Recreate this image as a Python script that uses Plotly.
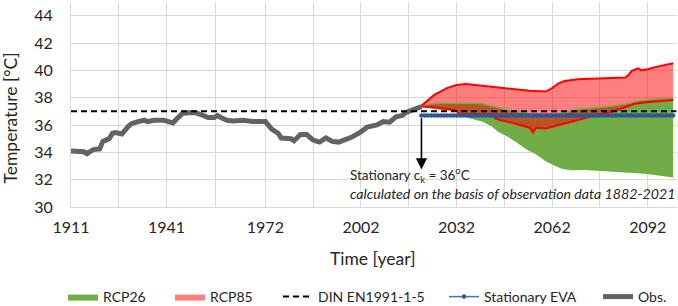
import plotly.graph_objects as go

# ---------------- data ----------------
obs_years = [1911, 1913, 1914, 1915, 1916, 1918, 1920, 1921, 1923, 1924, 1925, 1927,
             1929, 1930, 1932, 1934, 1935, 1937, 1940, 1943, 1944, 1946, 1948, 1950,
             1952, 1954, 1956, 1957, 1958, 1960, 1962, 1965, 1968, 1972, 1974, 1976,
             1977, 1980, 1981, 1983, 1985, 1987, 1989, 1991, 1993, 1995, 1999, 2001,
             2002, 2004, 2007, 2009, 2011, 2013, 2015, 2016, 2018, 2020, 2021]
obs_values = [34.1, 34.1, 34.05, 34.05, 33.9, 34.2, 34.25, 34.8, 35.0, 35.4, 35.45, 35.35,
              35.9, 36.1, 36.25, 36.35, 36.25, 36.35, 36.35, 36.15, 36.4, 36.85, 36.9, 36.9,
              36.75, 36.55, 36.55, 36.7, 36.55, 36.35, 36.3, 36.35, 36.25, 36.25, 35.7, 35.4,
              35.05, 35.0, 34.85, 35.3, 35.3, 34.9, 34.75, 35.05, 34.8, 34.75, 35.1, 35.35,
              35.5, 35.85, 36.0, 36.25, 36.2, 36.6, 36.7, 36.9, 37.1, 37.3, 37.35]

rcp85_up_years = [2021, 2025, 2029, 2032, 2035, 2040, 2045, 2050, 2055, 2060, 2062, 2064,
                  2066, 2070, 2075, 2081, 2085, 2086, 2087, 2089, 2090, 2092, 2095, 2100]
rcp85_up_values = [37.4, 38.2, 38.7, 38.93, 39.0, 38.88, 38.76, 38.6, 38.5, 38.45, 38.7, 39.05,
                   39.22, 39.35, 39.39, 39.42, 39.47, 39.66, 39.96, 40.15, 40.0, 40.08, 40.27, 40.52]

rcp85_lo_years = [2021, 2025, 2030, 2032, 2033, 2043, 2044, 2046, 2050, 2055, 2056, 2057,
                  2060, 2064, 2068, 2072, 2076, 2081, 2085, 2088, 2091, 2100]
rcp85_lo_values = [37.35, 37.3, 37.15, 37.05, 36.8, 36.78, 36.5, 36.35, 36.13, 35.8, 35.45, 35.8,
                   35.75, 36.0, 36.25, 36.5, 36.73, 36.98, 37.3, 37.55, 37.64, 37.83]

rcp26_up_years = [2021, 2024, 2027, 2032, 2036, 2040, 2043, 2045, 2048, 2050, 2055, 2060,
                  2064, 2068, 2070, 2076, 2081, 2086, 2089, 2095, 2100]
rcp26_up_values = [37.35, 37.55, 37.6, 37.62, 37.6, 37.55, 37.4, 37.3, 37.1, 37.0, 36.82, 36.75,
                   36.82, 37.0, 37.15, 37.25, 37.38, 37.58, 37.75, 37.9, 37.93]

rcp26_lo_years = [2021, 2025, 2030, 2032, 2033, 2036, 2040, 2043, 2045, 2048, 2051, 2054,
                  2057, 2060, 2063, 2065, 2068, 2072, 2076, 2081, 2086, 2091, 2096, 2100]
rcp26_lo_values = [37.35, 37.15, 37.05, 36.95, 36.75, 36.5, 36.25, 35.9, 35.5, 35.15, 34.7, 34.2,
                   33.85, 33.35, 33.0, 32.8, 32.68, 32.7, 32.66, 32.6, 32.52, 32.44, 32.28, 32.15]

eva_years = list(range(2021, 2101))
eva_values = [36.7] * len(eva_years)

din_years = [1911, 2101]
din_values = [37.0, 37.0]

x_tick_years = [1911, 1941, 1972, 2002, 2032, 2062, 2092]
x_minor_years = [1926, 1956.5, 1987, 2017, 2047, 2077]
y_ticks = [30, 32, 34, 36, 38, 40, 42, 44]

arrow_x, arrow_from, arrow_to = 2021, 36.6, 32.75
label_x, label1_y, label2_y = 1998, 32.35, 31.02

# ---------------- style ----------------
FONT = "Lato"
TXT = "#262626"
GRID = "#D9D9D9"
GREEN = "#70AD47"
RED_FILL = "rgba(255,0,0,0.5)"
RED = "#FF0000"
GREY = "#636363"

fig = go.Figure()

# RCP26 band
fig.add_trace(go.Scatter(x=rcp26_lo_years, y=rcp26_lo_values, mode="lines",
                         line=dict(width=0, color=GREEN), showlegend=False, hoverinfo="skip"))
fig.add_trace(go.Scatter(x=rcp26_up_years, y=rcp26_up_values, mode="lines", fill="tonexty",
                         fillcolor=GREEN, line=dict(width=0, color=GREEN), name="RCP26",
                         legend="legend"))
# RCP85 band
fig.add_trace(go.Scatter(x=rcp85_lo_years, y=rcp85_lo_values, mode="lines",
                         line=dict(width=0, color=RED), showlegend=False, hoverinfo="skip"))
fig.add_trace(go.Scatter(x=rcp85_up_years, y=rcp85_up_values, mode="lines", fill="tonexty",
                         fillcolor=RED_FILL, line=dict(width=0, color=RED), name="RCP85",
                         legend="legend2"))
# band outlines
fig.add_trace(go.Scatter(x=rcp26_up_years, y=rcp26_up_values, mode="lines",
                         line=dict(width=1.5, color=GREEN), showlegend=False))
fig.add_trace(go.Scatter(x=rcp85_up_years, y=rcp85_up_values, mode="lines",
                         line=dict(width=2, color=RED), showlegend=False))
fig.add_trace(go.Scatter(x=rcp85_lo_years, y=rcp85_lo_values, mode="lines",
                         line=dict(width=2, color=RED), showlegend=False))
# Observations
fig.add_trace(go.Scatter(x=obs_years, y=obs_values, mode="lines",
                         line=dict(width=5, color=GREY), name="Obs.", legend="legend5"))
# DIN
fig.add_trace(go.Scatter(x=din_years, y=din_values, mode="lines",
                         line=dict(width=2, color="black", dash="6px,4px"),
                         name="DIN EN1991-1-5", legend="legend3"))
# Stationary EVA
fig.add_trace(go.Scatter(x=eva_years, y=eva_values, mode="lines+markers",
                         line=dict(width=1.5, color="#4472C4"),
                         marker=dict(size=4.5, color="#2F5597"),
                         name="Stationary EVA", legend="legend4"))

# plot area in px: left 71, right 677, top 2, bottom 207
W, H = 678, 306
L, R, T, B = 71, 1, 2, 99
pw, ph = W - L - R, H - T - B


def px_x(p):
    return (p - L) / pw


def px_y(p):
    return (H - B - p) / ph


leg_common = dict(orientation="h", xanchor="left", yanchor="middle",
                  font=dict(family=FONT, size=14, color=TXT), bgcolor="rgba(0,0,0,0)",
                  itemclick=False)
leg_y = px_y(297)
TXT_OFF = 47  # legend text starts this far right of the legend x

fig.update_layout(
    width=W, height=H,
    margin=dict(l=L, r=R, t=T, b=B, autoexpand=False),
    paper_bgcolor="white", plot_bgcolor="white",
    font=dict(family=FONT, color=TXT),
    legend=dict(x=px_x(110 - TXT_OFF), y=leg_y, **leg_common),
    legend2=dict(x=px_x(217 - TXT_OFF), y=leg_y, **leg_common),
    legend3=dict(x=px_x(325 - TXT_OFF), y=leg_y, **leg_common),
    legend4=dict(x=px_x(491 - TXT_OFF), y=leg_y, **leg_common),
    legend5=dict(x=px_x(645 - TXT_OFF), y=leg_y, **leg_common),
    xaxis=dict(range=[1911, 2101.2], tickmode="array", tickvals=x_tick_years,
               ticktext=[str(v) for v in x_tick_years],
               showgrid=True, gridcolor=GRID, gridwidth=1,
               minor=dict(tickmode="array", tickvals=x_minor_years, showgrid=True,
                          gridcolor=GRID, gridwidth=1),
               showline=True, linecolor=GRID, linewidth=1,
               ticks="outside", ticklen=6, tickcolor="rgba(0,0,0,0)",
               tickfont=dict(family=FONT, size=16, color=TXT), zeroline=False),
    yaxis=dict(range=[30, 45], tickmode="array", tickvals=y_ticks,
               showgrid=True, gridcolor=GRID, gridwidth=1,
               showline=True, linecolor=GRID, linewidth=1,
               ticks="outside", ticklen=14, tickcolor="rgba(0,0,0,0)",
               tickfont=dict(family=FONT, size=16, color=TXT), zeroline=False),
    annotations=[
        dict(text="Temperature [°C]", xref="paper", yref="paper", x=px_x(10), y=px_y(118.5),
             xanchor="center", yanchor="middle", textangle=-90, showarrow=False,
             font=dict(family=FONT, size=17.5, color=TXT)),
        dict(text="Time [year]", xref="paper", yref="paper", x=px_x(373), y=px_y(258),
             xanchor="center", yanchor="middle", showarrow=False,
             font=dict(family=FONT, size=17.5, color=TXT)),
        dict(x=arrow_x, y=arrow_to, ax=arrow_x, ay=arrow_from, xref="x", yref="y",
             axref="x", ayref="y", text="", showarrow=True, arrowhead=2, arrowsize=1.4,
             arrowwidth=1.6, arrowcolor="black"),
        dict(text="Stationary c<sub>k</sub> = 36<sup>o</sup>C", x=label_x, y=label1_y,
             xref="x", yref="y", xanchor="left", yanchor="middle", showarrow=False,
             font=dict(family=FONT, size=13.5, color=TXT)),
        dict(text="<i>calculated on the basis of observation data 1882-2021</i>", x=label_x,
             y=label2_y, xref="x", yref="y", xanchor="left", yanchor="middle",
             showarrow=False, font=dict(family=FONT, size=14.2, color=TXT)),
    ],
)

fig.write_html("out.html", config={"displayModeBar": False},
               post_script="document.body.style.margin='0';document.body.style.padding='0';")
